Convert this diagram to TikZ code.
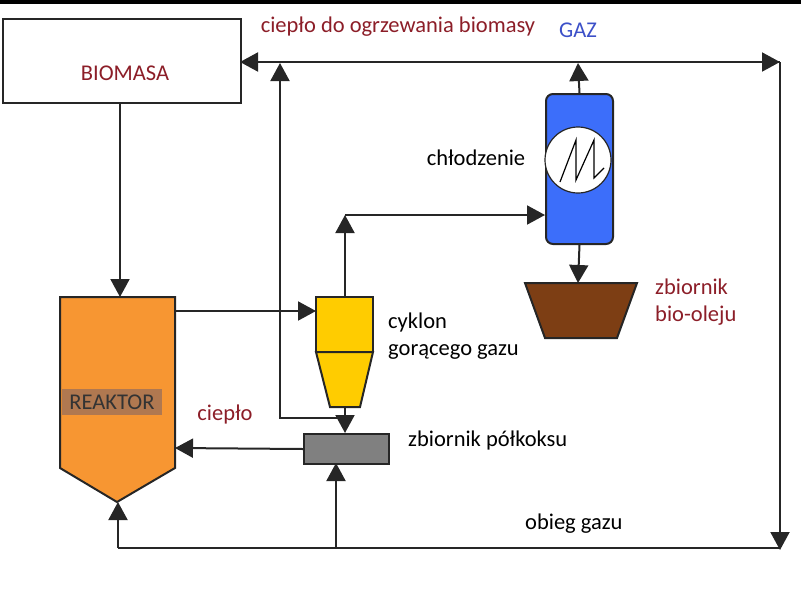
\documentclass[tikz,border=0pt]{standalone}
\usepackage{fontspec}
\setmainfont{Carlito}
\usetikzlibrary{arrows.meta, positioning, calc}
\definecolor{darkred}{RGB}{140,30,40}
\definecolor{gazblue}{RGB}{60,80,200}
\definecolor{reaktor}{RGB}{247,150,50}
\definecolor{cyklon}{RGB}{255,204,0}
\definecolor{cooler}{RGB}{60,110,250}
\definecolor{olej}{RGB}{125,62,20}
\definecolor{koks}{RGB}{128,128,128}
\begin{document}
\begin{tikzpicture}[x=1pt, y=-1pt,
    flow/.style={draw=black!85, line width=2pt,
      -{Triangle[width=19pt, length=18pt]}},
    pipe/.style={draw=black!85, line width=2pt},
    unit/.style={draw=black!85, line width=2pt},
    lbl/.style={font=\fontsize{22.5}{27}\selectfont, align=left},
    every node/.style={inner sep=0pt}]
  \useasboundingbox (0,0) rectangle (801,614);
  \fill (0,0) rectangle (801,4);

  % BIOMASA
  \node [unit, fill=white, minimum width=238pt, minimum height=84pt,
    anchor=north west] (biomasa) at (2,18) {};
  \node [lbl, text=darkred] at (125,73) {BIOMASA};

  % REAKTOR
  \draw [unit, fill=reaktor] (60,297) -- (175,297) -- (175,468)
    -- (117,502) -- (60,468) -- cycle;
  \coordinate (reaktorN) at (120,297);
  \coordinate (reaktorS) at (118,502);
  \node [lbl, fill={rgb,255:red,176;green,120;blue,80}, text=black!80,
    inner sep=2pt, minimum width=100pt, minimum height=26pt]
    (reaktor) at (112,402) {REAKTOR};

  % CYKLON
  \draw [unit, fill=cyklon] (316,297) rectangle (373,352);
  \draw [unit, fill=cyklon] (316,352) -- (373,352) -- (360,407)
    -- (330,407) -- cycle;
  \coordinate (cyklonN) at (345,297);
  \coordinate (cyklonW) at (316,311);
  \coordinate (cyklonS) at (345,407);

  % ZBIORNIK POLKOKSU
  \node [unit, fill=koks, minimum width=85pt, minimum height=30pt,
    anchor=north west] (koks) at (303,433) {};

  % CHLODZENIE
  \node [unit, fill=cooler, rounded corners=7pt, minimum width=67pt,
    minimum height=150pt, anchor=north west] (cooler) at (545,93) {};
  \node [unit, fill=white, circle, minimum size=66pt, line width=1.2pt]
    (coil) at (578,160) {};
  \draw [line width=1.2pt] (560,182) -- (576,140) -- (576,180)
    -- (594,140) -- (594,178) -- (604,168);

  % ZBIORNIK BIO-OLEJU
  \draw [unit, fill=olej] (525,283) -- (637,283) -- (617,338)
    -- (545,338) -- cycle;
  \coordinate (olejN) at (578,283);

  % connectors
  \draw [flow] (120,102) -- (reaktorN);
  \draw [flow] (175,311) -- (cyklonW);
  \draw [flow] (cyklonS) -- (345,433);
  \draw [flow] (koks.west) -- (175,448);
  \draw [flow] (cyklonN) -- (345,215);
  \draw [flow] (345,215) -- (545,215);
  \draw [flow] (cooler.south) -- (olejN);
  \draw [flow] (cooler.north) -- (578,63);
  \draw [flow] (780,62) -- (240,62);
  \draw [flow] (240,62) -- (780,62);
  \draw [flow] (780,62) -- (780,550);
  \draw [pipe] (780,548) -- (118,548);
  \draw [flow] (118,548) -- (reaktorS);
  \draw [flow] (336,548) -- (336,463);
  \draw [flow] (345,418) -- (280,418) -- (280,63);

  % labels
  \node [lbl, text=darkred] at (398,27) {ciepło do ogrzewania biomasy};
  \node [lbl, text=gazblue] at (578,30) {GAZ};
  \node [lbl] at (476,158) {chłodzenie};
  \node [lbl, text=darkred, anchor=west] at (655,302) {zbiornik\\bio-oleju};
  \node [lbl, anchor=west] at (388,336) {cyklon\\gorącego gazu};
  \node [lbl, text=darkred] at (225,414) {ciepło};
  \node [lbl, anchor=west] at (408,440) {zbiornik półkoksu};
  \node [lbl, anchor=west] at (525,524) {obieg gazu};
\end{tikzpicture}
\end{document}
